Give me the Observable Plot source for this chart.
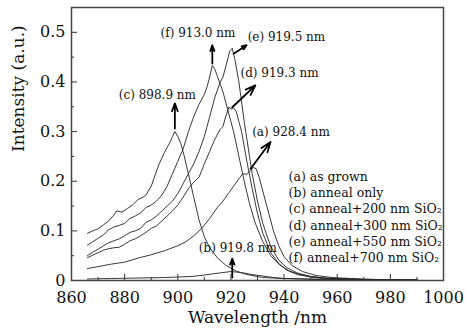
<!DOCTYPE html>
<html>
<head>
<meta charset="utf-8">
<script src="https://cdn.jsdelivr.net/npm/d3@7"></script>
<script src="https://cdn.jsdelivr.net/npm/@observablehq/plot@0.6"></script>
<style>
  html, body { margin: 0; padding: 0; background: #fff; }
  svg, svg text { font-family: "DejaVu Serif", "Liberation Serif", serif !important; }
</style>
</head>
<body>
<div id="chart"></div>
<script>
// ---- data ----
const lamA = [866,870,875,880,885,890,895,900,903,906,909,912,915,917,919,921,923,924.5,926,927.5,928.4,929.5,930.5,932,934,936,938,940,943,947,952,958,965,975,990];
const intA = [0.024,0.028,0.033,0.037,0.045,0.052,0.060,0.070,0.078,0.090,0.105,0.125,0.148,0.160,0.175,0.190,0.205,0.215,0.214,0.222,0.228,0.225,0.210,0.180,0.140,0.100,0.070,0.048,0.030,0.018,0.010,0.006,0.004,0.002,0.001];

const lamB = [866,875,885,895,905,910,914,917,919.8,922,925,928,932,936,940,946,952,960,975,990];
const intB = [0.003,0.004,0.005,0.006,0.008,0.011,0.014,0.016,0.018,0.017,0.015,0.012,0.009,0.006,0.004,0.003,0.002,0.001,0.001,0.001];

const lamC = [866,868,870,872,874,876,877,879,881,883,885,887,888,890,891,893,895,897,898,898.9,900,901,902,904,906,908,910,912,915,918,922,926,932,940,950,960,975,990];
const intC = [0.095,0.100,0.104,0.112,0.120,0.132,0.140,0.138,0.145,0.152,0.163,0.168,0.172,0.190,0.205,0.235,0.258,0.278,0.290,0.300,0.290,0.278,0.260,0.215,0.168,0.122,0.088,0.066,0.045,0.031,0.019,0.012,0.006,0.004,0.003,0.002,0.001,0.001];

const lamD = [866,868,870,872,874,876,878,880,882,884,886,888,890,892,894,896,898,900,902,904,906,908,910,912,914,916,917,918,919.3,920,921,922,923,924,925,926,928,930,932,935,938,941,945,950,955,960,970,980,990];
const intD = [0.046,0.051,0.056,0.061,0.064,0.066,0.067,0.073,0.080,0.084,0.090,0.097,0.105,0.110,0.120,0.130,0.140,0.152,0.168,0.185,0.198,0.208,0.235,0.260,0.285,0.305,0.310,0.330,0.350,0.345,0.348,0.340,0.320,0.300,0.270,0.240,0.185,0.135,0.095,0.056,0.034,0.021,0.012,0.007,0.004,0.003,0.002,0.001,0.001];

const lamE = [866,868,870,872,874,876,878,880,882,884,886,888,890,892,894,896,898,900,902,904,906,908,910,912,914,916,917,918,919,919.5,920.5,921.5,923,924,925,926,927,928,930,932,935,938,941,945,950,955,960,970,980,990];
const intE = [0.050,0.057,0.063,0.070,0.076,0.080,0.084,0.090,0.097,0.100,0.105,0.117,0.122,0.130,0.140,0.150,0.160,0.175,0.195,0.215,0.235,0.260,0.290,0.330,0.370,0.400,0.410,0.430,0.450,0.462,0.468,0.445,0.400,0.360,0.320,0.285,0.250,0.215,0.160,0.115,0.068,0.041,0.026,0.015,0.008,0.005,0.004,0.002,0.001,0.001];

const lamF = [866,868,870,872,874,876,878,880,882,884,886,888,890,892,894,896,898,900,902,904,906,908,910,911,912,913,914,915,917,919,921,923,925,927,929,932,935,938,942,946,950,955,960,970,980,990];
const intF = [0.071,0.078,0.085,0.092,0.102,0.108,0.111,0.115,0.125,0.130,0.136,0.147,0.152,0.160,0.172,0.190,0.215,0.240,0.265,0.300,0.330,0.355,0.375,0.390,0.410,0.433,0.425,0.410,0.380,0.340,0.300,0.250,0.200,0.155,0.118,0.078,0.050,0.033,0.019,0.012,0.008,0.005,0.003,0.002,0.001,0.001];

const seriesKeys = ["a","b","c","d","e","f"];
const seriesLam = [lamA, lamB, lamC, lamD, lamE, lamF];
const seriesInt = [intA, intB, intC, intD, intE, intF];

// peak annotations
const peakLabels = ["(a) 928.4 nm","(b) 919.8 nm","(c) 898.9 nm","(d) 919.3 nm","(e) 919.5 nm","(f) 913.0 nm"];
const peakLabelX = [928.0, 907.9, 877.8, 923.6, 926.3, 893.5];
const peakLabelY = [0.299, 0.066, 0.373, 0.418, 0.490, 0.498];
const arrowX1 = [927.4, 920.5, 898.9, 920.5, 921.0, 913.0];
const arrowY1 = [0.225, 0.006, 0.306, 0.349, 0.457, 0.437];
const arrowX2 = [934.9, 920.5, 898.9, 929.2, 925.9, 913.0];
const arrowY2 = [0.279, 0.044, 0.357, 0.393, 0.474, 0.474];

// legend text
const legendLabels = ["(a) as grown","(b) anneal only","(c) anneal+200 nm SiO\u2082","(d) anneal+300 nm SiO\u2082","(e) anneal+550 nm SiO\u2082","(f) anneal+700 nm SiO\u2082"];

// ticks
const xMajor = [860,880,900,920,940,960,980,1000];
const xMinor = [870,890,910,930,950,970,990];
const yMajor = [0,0.1,0.2,0.3,0.4,0.5];
const yMinor = [0.05,0.15,0.25,0.35,0.45];

// ---- build tables ----
const rows = [];
seriesKeys.forEach((k, i) => seriesLam[i].forEach((l, j) => rows.push({key: k, lam: l, I: seriesInt[i][j]})));
const peaks = peakLabels.map((t, i) => ({t, x: peakLabelX[i], y: peakLabelY[i], x1: arrowX1[i], y1: arrowY1[i], x2: arrowX2[i], y2: arrowY2[i]}));
const legend = legendLabels.map((t, i) => ({t, i}));

const font = "DejaVu Serif";

const chart = Plot.plot({
  width: 465,
  height: 331,
  marginLeft: 71,
  marginRight: 22,
  marginTop: 7,
  marginBottom: 51,
  style: {fontFamily: font, fontSize: "16px", color: "#111", background: "#fff"},
  x: {domain: [860, 1000]},
  y: {domain: [0, 0.55]},
  marks: [
    Plot.line(rows, {x: "lam", y: "I", z: "key", stroke: "#222", strokeWidth: 0.9, curve: "linear"}),
    Plot.arrow(peaks, {x1: "x1", y1: "y1", x2: "x2", y2: "y2", stroke: "#000", strokeWidth: 1.8, headLength: 9, headAngle: 40}),
    Plot.text(peaks, {x: "x", y: "y", text: "t", textAnchor: "start", fontSize: 12, fontFamily: font, fill: "#111"}),
    Plot.text(legend, {x: 941.7, y: d => 0.2077 - d.i * 0.0323, text: "t", textAnchor: "start", fontSize: 12.5, fontFamily: font, fill: "#111"}),
    Plot.axisX(xMinor, {tickSize: -3, tickFormat: () => "", stroke: "#333", label: null}),
    Plot.axisX(xMajor, {tickSize: -6, tickFormat: () => "", stroke: "#333", label: null}),
    Plot.axisX(xMajor, {tickSize: 0, tickPadding: 11, tickFormat: d => String(d), fill: "#111", fontSize: 16, fontFamily: font, label: null}),
    Plot.axisY(yMinor, {tickSize: -3, tickFormat: () => "", stroke: "#333", label: null}),
    Plot.axisY(yMajor, {tickSize: -6, tickFormat: () => "", stroke: "#333", label: null}),
    Plot.axisY(yMajor, {tickSize: 0, tickPadding: 6, tickFormat: d => d === 0 ? "0" : d.toFixed(1), fill: "#111", fontSize: 16, fontFamily: font, label: null}),
    Plot.text(["Wavelength /nm"], {frameAnchor: "bottom", dy: 42, text: d => d, fontSize: 17, fontFamily: font, fill: "#111"}),
    Plot.text(["Intensity (a.u.)"], {frameAnchor: "left", dx: -53, dy: 8, rotate: -90, text: d => d, fontSize: 17, fontFamily: font, fill: "#111"}),
    Plot.frame({stroke: "#444", strokeWidth: 1.5})
  ]
});
document.getElementById("chart").appendChild(chart);
</script>
</body>
</html>
